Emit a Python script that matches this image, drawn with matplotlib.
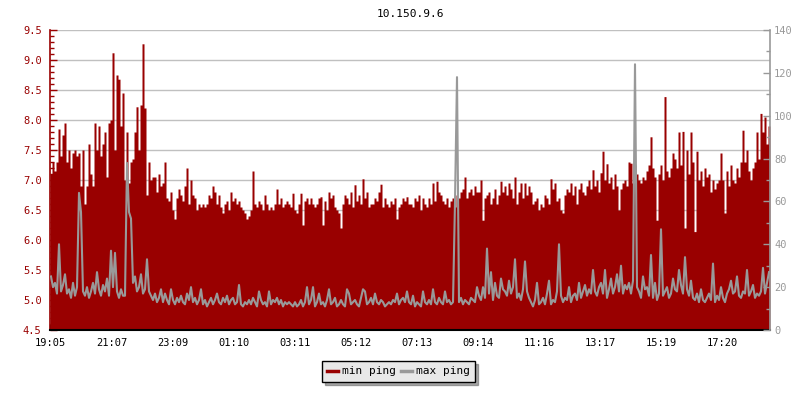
import numpy as np
import matplotlib
matplotlib.use("Agg")
import matplotlib.pyplot as plt
from matplotlib.lines import Line2D
from matplotlib.ticker import MultipleLocator, FormatStrFormatter

title = "10.150.9.6"
tick_labels = ["19:05", "21:07", "23:09", "01:10", "03:11", "05:12",
               "07:13", "09:14", "11:16", "13:17", "15:19", "17:20"]
series_names = ["min ping", "max ping"]

# min ping (left axis, ms) - one value per ~4 minutes
min_ping = [
    7.1, 7.3, 7.15, 7.3, 7.85, 7.4, 7.75, 7.95, 7.3, 7.5, 7.2, 7.45, 7.5, 7.4, 7.45, 6.9, 7.5, 6.6, 6.9, 7.6,
    7.1, 6.9, 7.95, 7.5, 7.9, 7.4, 7.6, 7.8, 7.05, 7.95, 8.0, 9.12, 7.5, 8.75, 8.68, 7.9, 8.45, 7.0, 7.8, 6.95,
    7.3, 7.35, 7.8, 8.22, 7.5, 8.25, 9.27, 8.2, 6.75, 7.3, 7.0, 7.05, 7.05, 6.8, 7.1, 6.9, 6.95, 7.3, 6.7, 6.65,
    6.8, 6.5, 6.35, 6.7, 6.85, 6.75, 6.65, 6.9, 7.2, 6.6, 7.0, 6.75, 6.7, 6.5, 6.6, 6.55, 6.6, 6.55, 6.6, 6.75,
    6.7, 6.9, 6.8, 6.6, 6.75, 6.55, 6.45, 6.6, 6.65, 6.5, 6.8, 6.65, 6.7, 6.6, 6.65, 6.55, 6.5, 6.45, 6.35, 6.4,
    6.5, 7.15, 6.6, 6.55, 6.65, 6.6, 6.5, 6.75, 6.6, 6.5, 6.55, 6.5, 6.6, 6.85, 6.6, 6.7, 6.55, 6.6, 6.65, 6.6,
    6.55, 6.78, 6.5, 6.45, 6.6, 6.78, 6.25, 6.65, 6.7, 6.6, 6.7, 6.6, 6.55, 6.6, 6.7, 6.72, 6.25, 6.65, 6.5, 6.8,
    6.7, 6.75, 6.55, 6.5, 6.45, 6.2, 6.6, 6.75, 6.7, 6.6, 6.8, 6.55, 6.92, 6.65, 6.75, 6.6, 7.02, 6.7, 6.8, 6.55,
    6.6, 6.6, 6.7, 6.65, 6.8, 6.93, 6.55, 6.7, 6.6, 6.55, 6.65, 6.6, 6.7, 6.35, 6.55, 6.6, 6.7, 6.65, 6.72, 6.6,
    6.6, 6.55, 6.7, 6.65, 6.75, 6.5, 6.7, 6.6, 6.55, 6.7, 6.6, 6.95, 6.65, 6.98, 6.8, 6.75, 6.65, 6.6, 6.7, 6.55,
    6.65, 6.7, 6.55, 6.75, 6.7, 6.8, 6.85, 7.05, 6.7, 6.8, 6.85, 6.75, 6.9, 6.8, 6.8, 7.0, 6.33, 6.7, 6.75, 6.8,
    6.6, 6.7, 6.85, 6.6, 6.75, 6.98, 6.8, 6.9, 6.75, 6.95, 6.85, 6.7, 7.05, 6.6, 6.8, 6.95, 6.7, 6.95, 6.75, 6.9,
    6.8, 6.6, 6.65, 6.7, 6.5, 6.6, 6.55, 6.75, 6.7, 6.6, 7.02, 6.85, 6.95, 6.65, 6.7, 6.5, 6.45, 6.75, 6.85, 6.8,
    6.95, 6.75, 6.9, 6.6, 6.85, 6.95, 6.8, 6.75, 6.9, 7.0, 6.85, 7.17, 6.9, 7.0, 6.8, 7.12, 7.48, 7.0, 7.27, 6.95,
    7.05, 6.85, 7.1, 6.9, 6.5, 6.85, 6.95, 7.0, 6.9, 7.3, 7.28, 6.95, 7.25, 7.1, 7.0, 6.95, 7.05, 7.0, 7.15, 7.25,
    7.72, 7.2, 7.05, 6.33, 7.1, 7.25, 7.0, 8.39, 7.15, 7.05, 7.2, 7.45, 7.35, 7.2, 7.8, 7.25, 7.81, 6.2, 7.5, 7.1,
    7.8, 7.3, 6.14, 7.48, 7.0, 7.15, 6.9, 7.2, 7.05, 7.1, 6.8, 7.0, 6.85, 6.95, 7.0, 7.45, 7.0, 6.45, 7.15, 6.9,
    7.25, 7.0, 6.95, 7.2, 7.05, 7.3, 7.83, 7.3, 7.5, 7.15, 7.0, 7.2, 7.3, 7.8, 7.35, 8.11, 7.8, 8.05, 7.6, 7.9,
]

# max ping (right axis, ms)
max_ping = [
    25, 20, 22, 17, 40, 18, 21, 26, 17, 19, 15, 22, 16, 20, 64, 55, 18, 16, 20, 15,
    18, 22, 17, 27, 19, 16, 21, 18, 24, 16, 37, 20, 36, 18, 15, 19, 16, 16, 78, 55,
    52, 22, 25, 18, 20, 26, 17, 19, 33, 18, 16, 14, 17, 13, 15, 19, 13, 17, 14, 12,
    19, 14, 12, 15, 13, 16, 13, 12, 17, 14, 20, 13, 15, 12, 14, 19, 12, 14, 11, 13,
    15, 12, 14, 17, 13, 12, 15, 13, 16, 12, 14, 15, 12, 13, 21, 12, 11, 13, 12, 14,
    12, 15, 13, 11, 18, 14, 12, 13, 11, 18, 12, 14, 13, 15, 12, 14, 11, 13, 12, 13,
    12, 11, 13, 11, 12, 14, 11, 13, 20, 12, 14, 20, 11, 13, 17, 12, 13, 11, 14, 19,
    12, 13, 15, 11, 12, 14, 12, 11, 19, 17, 12, 13, 14, 12, 11, 15, 19, 18, 12, 13,
    15, 12, 17, 13, 12, 14, 13, 11, 12, 13, 12, 14, 13, 17, 12, 14, 15, 13, 18, 13,
    12, 16, 11, 13, 12, 11, 18, 13, 12, 14, 12, 19, 13, 12, 15, 13, 12, 18, 13, 14,
    12, 13, 60, 118, 13, 15, 12, 14, 13, 12, 15, 14, 13, 20, 16, 14, 20, 15, 38, 17,
    27, 14, 22, 16, 15, 24, 19, 18, 16, 23, 17, 20, 33, 15, 17, 14, 19, 32, 18, 15,
    13, 11, 14, 22, 12, 13, 15, 12, 17, 23, 12, 14, 13, 18, 40, 16, 13, 15, 14, 20,
    13, 16, 17, 14, 22, 15, 18, 21, 16, 19, 17, 28, 18, 16, 20, 22, 17, 28, 15, 19,
    24, 17, 20, 26, 18, 30, 17, 21, 19, 22, 17, 23, 124, 20, 18, 15, 25, 19, 20, 16,
    35, 15, 22, 14, 17, 47, 16, 18, 20, 15, 17, 24, 19, 18, 28, 21, 17, 34, 19, 16,
    23, 15, 14, 17, 13, 19, 14, 13, 15, 17, 14, 31, 13, 16, 14, 20, 15, 13, 17, 19,
    23, 17, 18, 25, 16, 15, 18, 17, 28, 16, 18, 21, 15, 17, 16, 18, 29, 17, 22, 27,
]

RED = "#990000"
GRAY = "#999999"
FONT = "DejaVu Sans Mono"
FS = 7.5

plt.rcParams["font.family"] = [FONT, "DejaVu Sans"]

span = 1429.0  # minutes shown on the x axis
n = len(min_ping)
step = span / n
edges = np.arange(n + 1) * step
centers = edges[:-1] + step / 2


def to_minutes(lbl, start="19:05"):
    h, m = map(int, lbl.split(":"))
    h0, m0 = map(int, start.split(":"))
    return ((h * 60 + m) - (h0 * 60 + m0)) % 1440


tick_pos = [to_minutes(t) for t in tick_labels]

fig = plt.figure(figsize=(8, 4), dpi=100)
ax = fig.add_axes([50 / 800, 1 - 330 / 400, 720 / 800, 300 / 400])
ax2 = ax.twinx()

mn = np.append(np.array(min_ping), min_ping[-1])

ax.fill_between(edges, mn, 4.5, step="post", color=RED, linewidth=0, antialiased=False, zorder=2)
ax2.plot(centers, max_ping, color=GRAY, linewidth=1.5, zorder=3)

ax.set_xlim(0, span)
ax.set_ylim(4.5, 9.5)
ax2.set_ylim(0, 140)

ax.yaxis.set_major_locator(MultipleLocator(0.5))
ax.yaxis.set_minor_locator(MultipleLocator(0.1))
ax.yaxis.set_major_formatter(FormatStrFormatter("%.1f"))
ax2.yaxis.set_major_locator(MultipleLocator(20))
ax2.yaxis.set_minor_locator(MultipleLocator(10))

ax.set_xticks(tick_pos)
ax.set_xticklabels(tick_labels)

ax.grid(axis="y", which="major", color="#c0c0c0", linewidth=1.0, zorder=0)
ax.set_axisbelow(True)

ax.tick_params(axis="y", which="major", direction="in", length=5, width=1, colors=RED,
               labelsize=FS, pad=6)
ax.tick_params(axis="y", which="minor", direction="in", length=3, width=1, colors=RED)
ax.tick_params(axis="x", which="major", direction="in", length=4, width=1, colors="black",
               labelsize=FS, pad=6)
ax2.tick_params(axis="y", which="major", direction="in", length=5, width=1, colors=GRAY,
                labelsize=FS, pad=3)
ax2.tick_params(axis="y", which="minor", direction="in", length=3, width=1, colors=GRAY)

for a in (ax, ax2):
    a.spines["top"].set_visible(False)
ax.spines["left"].set_color(RED)
ax.spines["left"].set_linewidth(1.2)
ax2.spines["left"].set_visible(False)
ax.spines["right"].set_visible(False)
ax2.spines["right"].set_color(GRAY)
ax2.spines["right"].set_linewidth(1.2)
ax.spines["bottom"].set_color("black")
ax.spines["bottom"].set_linewidth(1.5)
ax2.spines["bottom"].set_visible(False)

fig.text(410 / 800, 1 - 14 / 400, title, ha="center", va="center", fontsize=FS + 0.5,
         family=FONT, color="black")

handles = [Line2D([], [], color=RED, lw=2.5), Line2D([], [], color=GRAY, lw=2.5)]
leg = fig.legend(handles, series_names, loc="center", ncol=2,
                 bbox_to_anchor=(398.5 / 800, 1 - 371.5 / 400),
                 frameon=True, fancybox=False, shadow={"color": "#555555"},
                 handlelength=1.0, handletextpad=0.3, columnspacing=0.5,
                 borderpad=0.5, prop={"family": FONT, "size": FS + 0.5})
frame = leg.get_frame()
frame.set_facecolor("#e8e8e8")
frame.set_edgecolor("black")
frame.set_linewidth(1.0)
frame.set_alpha(1)

fig.savefig("out.png", dpi=100)
